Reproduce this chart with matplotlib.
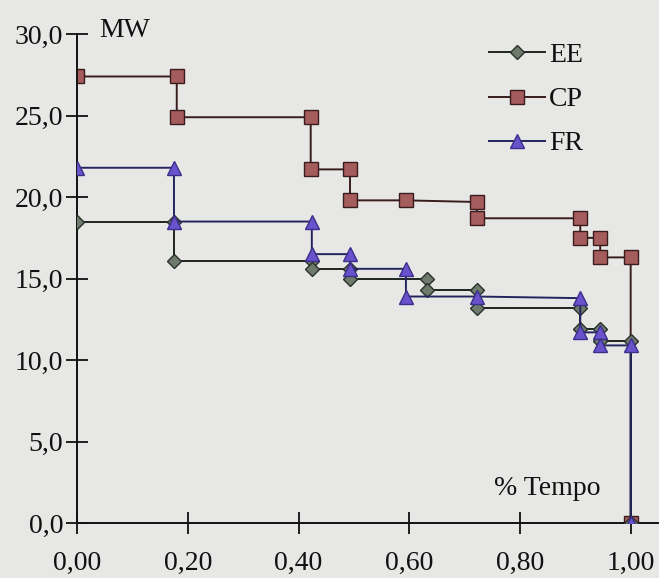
import matplotlib
matplotlib.use("Agg")
import matplotlib.pyplot as plt
from matplotlib.ticker import FixedLocator

plt.rcParams['font.family'] = ['Liberation Serif', 'DejaVu Serif']

# step curves, % tempo vs MW
ee_x = [0.0, 0.175, 0.175, 0.424, 0.424, 0.493, 0.493, 0.632, 0.632, 0.722, 0.722, 0.909, 0.909, 0.945, 0.945, 1.0, 1.0]
ee_y = [18.5, 18.5, 16.1, 16.1, 15.6, 15.6, 15.0, 15.0, 14.3, 14.3, 13.2, 13.2, 11.9, 11.9, 11.2, 11.2, 0.0]

cp_x = [0.0, 0.18, 0.18, 0.422, 0.422, 0.493, 0.493, 0.594, 0.722, 0.722, 0.909, 0.909, 0.945, 0.945, 1.0, 1.0]
cp_y = [27.4, 27.4, 24.9, 24.9, 21.7, 21.7, 19.8, 19.8, 19.7, 18.7, 18.7, 17.5, 17.5, 16.3, 16.3, 0.0]

fr_x = [0.0, 0.175, 0.175, 0.424, 0.424, 0.493, 0.493, 0.594, 0.594, 0.722, 0.909, 0.909, 0.945, 0.945, 1.0, 1.0]
fr_y = [21.8, 21.8, 18.5, 18.5, 16.5, 16.5, 15.6, 15.6, 13.9, 13.9, 13.8, 11.7, 11.7, 10.9, 10.9, 0.0]

xticks = [0.0, 0.2, 0.4, 0.6, 0.8, 1.0]
xlabels = ["0,00", "0,20", "0,40", "0,60", "0,80", "1,00"]
yticks = [0, 5, 10, 15, 20, 25, 30]
ylabels = ["0,0", "5,0", "10,0", "15,0", "20,0", "25,0", "30,0"]

bg = "#e7e8e6"
fig = plt.figure(figsize=(6.59, 5.78), dpi=100, facecolor=bg)
ax = fig.add_axes([0.117, 0.095, 0.882, 0.846], facecolor=bg)

ax.plot(ee_x, ee_y, color="#1e2420", lw=1.4, marker="D", ms=7,
        mfc="#6d7a6c", mec="#2a302a", mew=1.0, label="EE", zorder=3)
ax.plot(cp_x, cp_y, color="#3a1c1c", lw=1.4, marker="s", ms=10,
        mfc="#a45c5c", mec="#3a1c1c", mew=1.0, label="CP", zorder=2)
ax.plot(fr_x, fr_y, color="#24245e", lw=1.4, marker="^", ms=10,
        mfc="#6a52cc", mec="#3a2f8a", mew=1.0, label="FR", zorder=4)

ax.set_xlim(0, 1.05)
ax.set_ylim(0, 30)
ax.xaxis.set_major_locator(FixedLocator(xticks))
ax.set_xticklabels(xlabels)
ax.yaxis.set_major_locator(FixedLocator(yticks))
ax.set_yticklabels(ylabels)

for s in ["top", "right"]:
    ax.spines[s].set_visible(False)
for s in ["left", "bottom"]:
    ax.spines[s].set_linewidth(1.4)
    ax.spines[s].set_color("#111111")

ax.tick_params(direction="inout", length=16, width=1.3, labelsize=20, colors="#111111")
ax.tick_params(axis="x", pad=12)
ax.tick_params(axis="y", pad=2)

ax.text(0.04, 30.2, "MW", fontsize=20, ha="left", va="center", color="#111111")
ax.text(0.85, 2.1, "% Tempo", fontsize=20, ha="center", va="center", color="#111111")

leg = ax.legend(loc="upper left", bbox_to_anchor=(0.69, 1.005), frameon=False,
                fontsize=20, handlelength=2.0, handletextpad=0.15, labelspacing=0.67,
                borderaxespad=0)
for t in leg.get_texts():
    t.set_color("#111111")

plt.savefig("out.png", dpi=100, facecolor=bg)
